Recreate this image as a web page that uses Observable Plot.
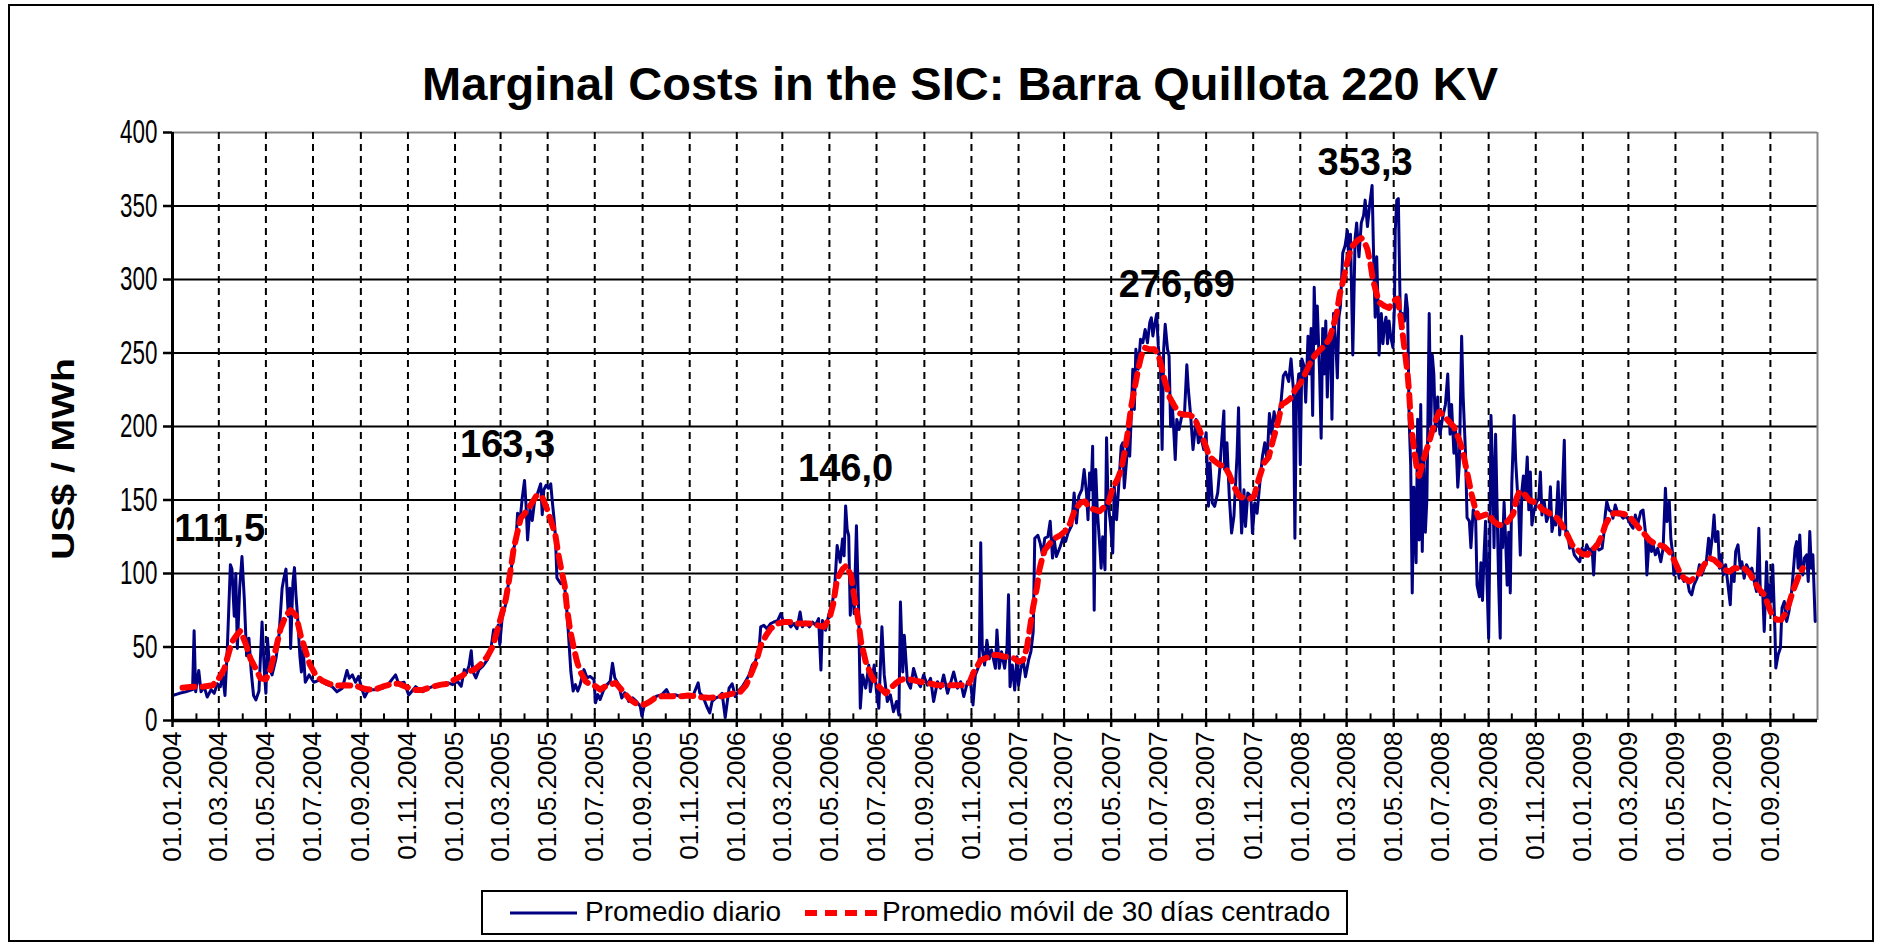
<!DOCTYPE html>
<html><head><meta charset="utf-8">
<script src="https://cdn.jsdelivr.net/npm/d3@7"></script>
<script src="https://cdn.jsdelivr.net/npm/@observablehq/plot@0.6"></script>
<style>
html,body{margin:0;padding:0;background:#fff;}
#wrap{position:relative;width:1883px;height:945px;overflow:hidden;font-family:"Liberation Sans",Arial,sans-serif;background:#fff;}
#frame{position:absolute;left:8px;top:4px;width:1866px;height:938px;border:2px solid #000;box-sizing:border-box;}
#chart{position:absolute;left:0;top:0;}
#title{position:absolute;left:0;width:1920px;top:60px;line-height:47px;text-align:center;font-weight:bold;font-size:47px;color:#000;white-space:nowrap;}
#ylabel{position:absolute;left:-87px;top:441px;width:300px;line-height:36px;text-align:center;font-weight:bold;font-size:32px;transform:rotate(-90deg) scaleX(1.22);transform-origin:150px 18px;white-space:nowrap;}
#legend{position:absolute;left:481px;top:890px;width:867px;height:45px;border:2px solid #000;box-sizing:border-box;background:#fff;font-size:28px;}
#legend .t{position:absolute;top:4px;line-height:32px;white-space:nowrap;}
#legend svg{position:absolute;top:0;left:0;}
</style></head>
<body>
<div id="wrap">
  <div id="frame"></div>
  <div id="chart"></div>
  <div id="title">Marginal Costs in the SIC: Barra Quillota 220 KV</div>
  <div id="ylabel">US$ / MWh</div>
  <div id="legend">
    <svg width="867" height="45"><line x1="27" x2="94" y1="21" y2="21" stroke="#000080" stroke-width="3"/><line x1="322" x2="394" y1="21" y2="21" stroke="#ff0000" stroke-width="6" stroke-dasharray="12,8"/></svg>
    <span class="t" style="left:102px">Promedio diario</span>
    <span class="t" style="left:399px">Promedio móvil de 30 días centrado</span>
  </div>
</div>
<script>
// ---- data (day offset from 01.01.2004, US$/MWh) ----
const dailyA = [[0,17],[9,18.5],[17,19.5],[26,21],[28,61],[30,19.5],[34,34],[37,19.5],[41,23],[45,16],[50,21],[54,18.5],[58,25],[62,23],[65,31],[68,17],[71,49],[75,106],[77,103],[80,71],[82,100],[84,49],[87,90],[90,111.5],[93,83],[96,44],[99,56],[102,33],[105,17],[108,14],[112,20],[116,67],[119,33],[121,18.5],[123,56],[126,35],[129,31],[134,42],[138,58],[142,90],[144,96],[147,103],[150,71],[152,90],[153,49],[156,94],[158,104],[160,85],[162,71],[165,44],[167,33],[169,51],[172,26],[177,31],[183,26],[190,27.5],[198,25],[207,23],[213,19.5],[220,22],[226,34],[229,28.7],[233,31],[237,26],[241,30],[245,22],[249,16],[254,21],[263,21],[272,22],[280,25],[289,31],[293,25],[300,26],[306,17.4],[315,23],[324,19.6],[332,22],[341,24],[350,24.4],[357,25.6],[363,24.4]];
const dailyB = [[369,26.7],[374,23.3],[378,34.6],[381,32.4],[384,37],[387,47.5],[389,33.5],[393,29],[397,34.6],[402,37],[408,41.4],[412,47],[416,61.8],[419,58],[422,65],[424,51.6],[427,69.7],[432,80],[436,97],[439,103.6],[442,117],[445,122.8],[447,141],[450,135],[453,151],[456,163.3],[458,146.6],[460,122.8],[463,144],[466,136],[469,149],[472,153],[477,161],[479,140],[481,157],[484,160],[487,158],[490,161],[492,149],[494,138.7],[496,126],[498,97],[503,93],[507,95.7],[510,81],[513,58.4],[516,33.5],[519,20],[522,24.4],[525,20],[528,24.4],[533,34.6],[537,29],[541,30],[546,27.8],[548,12],[551,17.6],[554,14.3],[558,20],[563,24.4],[567,26.7],[570,39],[573,29],[578,24.4],[582,15.4],[586,18.8],[591,13],[596,15.4],[601,13],[606,9.7],[608,3],[611,9.7],[616,12],[621,14.3],[627,16.5],[634,17.6],[640,21],[644,16.5],[651,17.6],[657,16.5],[666,17.6],[674,16.5],[681,25.6],[683,18.8],[687,16.5],[692,9.7],[696,5.2],[699,13],[704,15.4]];
const dailyC = [[708,16.3],[712,18.5],[716,2],[721,22],[725,25],[729,16.3],[734,20.8],[738,23],[742,26.4],[747,31],[751,37.7],[755,40],[760,49],[762,63.7],[766,64.8],[770,62.5],[775,66],[779,67],[784,68],[788,72.7],[792,66],[796,68],[801,63.7],[805,66],[809,62.5],[813,73.8],[816,63.7],[820,67],[825,63.7],[829,67],[833,64.8],[837,69.3],[840,34.3],[842,68],[846,61.4],[850,71.6],[855,80.6],[858,92],[861,119],[865,107.7],[868,123.5],[870,112],[872,146],[874,130],[876,125.7],[878,71.6],[881,98.6],[883,72.7],[886,132.5],[889,71.6],[891,8.4],[894,31],[898,22],[902,37.7],[904,19.6],[909,37.7],[912,19.6],[915,8.4],[919,63.7],[922,31],[926,12.9],[930,17.4],[934,6],[938,12.9],[941,3.8],[943,80.6],[946,33],[948,58],[952,26.4],[956,22],[960,35.4],[965,26.4],[969,23],[973,31],[978,24],[982,28.7],[986,12.9],[991,26.4],[995,22],[999,31],[1004,18.5],[1009,27.5],[1012,33],[1017,22],[1021,26.4],[1025,16.3],[1030,26.4],[1034,25],[1037,10.6],[1040,31],[1045,37.7],[1047,121],[1049,49],[1052,37.7],[1055,54.6],[1058,42]];
const dailyD = [[1061,48],[1066,35.5],[1068,61.6],[1071,35.5],[1074,46.8],[1078,35.5],[1081,49],[1083,85.5],[1085,23],[1088,37.7],[1091,20.7],[1094,43.4],[1096,24],[1099,35.5],[1102,41],[1105,29.8],[1109,41],[1112,46.8],[1115,60.5],[1117,124],[1121,126],[1124,120.7],[1127,112.7],[1130,124],[1134,125],[1137,135.5],[1140,110.5],[1142,124],[1145,111.6],[1150,118.4],[1154,125],[1157,121.8],[1160,127.5],[1165,133],[1168,154.8],[1171,134.3],[1174,152.5],[1178,157],[1181,170.7],[1184,154.8],[1186,136.6],[1188,168.4],[1190,157],[1192,186.6],[1194,75],[1196,170.7],[1198,143.4],[1201,120.7],[1203,103.6],[1205,125],[1208,102.5],[1210,192.3],[1212,148],[1215,134.3],[1218,113.9],[1220,159.3],[1223,136.6],[1226,161.6],[1229,186.6],[1231,188.9],[1233,158.2],[1236,177.5],[1238,200],[1240,179.8],[1242,207],[1244,238.9],[1246,211.6],[1248,252.5],[1251,239],[1254,259.3],[1257,257],[1260,266],[1263,257],[1266,270.7],[1268,274],[1270,261.6],[1272,268.4],[1275,276.7],[1277,254.8],[1280,239],[1282,184.3],[1284,252.5],[1286,269.5],[1289,252.5],[1291,248],[1293,200],[1295,216],[1297,198],[1299,177.5],[1301,204.8],[1304,198],[1307,206],[1311,209],[1314,242],[1316,225],[1319,207],[1322,184.3],[1326,204.8],[1329,188.9],[1332,193.4],[1336,184.3],[1339,195.7],[1342,145.7],[1344,175.2],[1347,148],[1350,145.7],[1354,154.8],[1357,173],[1359,188.9],[1362,210.5],[1363,170.7],[1366,188.9],[1369,152.5],[1372,127.5],[1375,138.9],[1379,179.8],[1381,212.7],[1383,157],[1385,127.5],[1388,157],[1390,132],[1393,154.8],[1397,152.5],[1399,127.5],[1402,148],[1405,141],[1409,163.9],[1412,179.8],[1415,188.9],[1418,176.7]];
const dailyE = [[1421,208.8],[1424,194.7],[1427,210],[1430,202.4],[1433,208.8],[1436,216.5],[1439,234.5],[1442,237],[1446,230.6],[1449,246],[1452,225.5],[1454,124],[1456,220],[1459,235.7],[1461,174],[1463,246],[1466,240.9],[1468,216.5],[1471,261.4],[1473,235.7],[1475,266.6],[1477,207.5],[1479,294.8],[1481,256.3],[1483,282],[1486,235.7],[1488,192],[1490,266.6],[1492,235.7],[1494,271.7],[1496,220],[1498,261.4],[1500,264],[1502,205],[1504,276.8],[1507,256.3],[1509,233],[1511,274.3],[1513,282],[1516,318],[1519,323],[1522,333.3],[1524,310],[1526,330.8],[1529,248.6],[1532,328.2],[1534,338.5],[1537,315.4],[1540,338.5],[1543,343.6],[1545,354],[1548,336],[1551,351.3],[1554,364],[1556,315.4],[1558,274.3],[1560,315.4],[1562,276.8],[1563,248.6],[1566,276.8],[1568,256.3],[1570,269],[1572,274.3],[1574,256.3],[1576,271.7],[1578,261.4],[1581,253.7],[1583,282],[1584,333.3],[1586,354],[1588,355],[1590,292.2],[1591,266.6],[1593,276.8],[1596,271.7],[1598,289.7],[1600,279.4],[1602,205],[1604,174],[1606,86.8],[1608,158.7],[1611,107.3],[1613,205],[1615,122.8],[1617,215],[1619,115],[1621,179.2],[1623,128],[1625,151],[1628,276.8],[1630,199.8],[1632,248.6],[1634,235.7],[1636,197],[1639,220],[1640,205],[1642,194.7],[1645,205],[1649,215],[1652,235.7],[1655,194.7],[1657,215],[1660,181.8],[1662,199.8],[1665,158.7],[1667,174],[1670,261.4],[1672,220],[1675,181.8],[1677,138],[1680,135.6],[1682,117.6],[1685,143.3],[1688,140.7],[1690,92],[1693,84.2],[1695,107.3],[1697,81.7],[1699,112.5],[1701,135.6],[1703,92],[1705,56],[1707,143.3],[1708,207.5],[1710,174],[1712,117.6],[1714,194.7],[1716,143.3],[1718,92],[1720,56],[1721,130.5],[1723,117.6],[1725,148.4],[1727,122.8],[1729,92],[1731,128],[1733,86.8],[1735,161.3],[1738,207.5],[1740,176.7],[1742,158.7],[1744,143.3],[1746,112.5],[1748,156],[1750,166.4],[1752,151],[1755,179.2],[1757,143.3],[1759,169],[1761,133],[1764,143.3],[1767,148.4]];
const dailyF = [[1770,151],[1772,169],[1774,139.8],[1777,148.9],[1780,135.3],[1783,139.8],[1785,159],[1787,128.5],[1790,137.6],[1792,133],[1795,162.4],[1797,126.2],[1799,139.8],[1801,162.4],[1803,190.7],[1805,126.2],[1807,128.5],[1810,117.2],[1813,119.5],[1816,112.7],[1819,110.4],[1823,108],[1826,117.2],[1829,112.7],[1832,119.5],[1836,115],[1839,117.2],[1841,99],[1843,119.5],[1848,116],[1852,117.2],[1854,126.2],[1856,139.8],[1858,148.9],[1861,143.2],[1864,142],[1866,137.6],[1869,146.6],[1873,139.8],[1876,139.8],[1879,137.6],[1882,138.7],[1885,137.6],[1889,133],[1892,130.8],[1895,139.8],[1898,133],[1902,142],[1905,143.2],[1908,128.5],[1910,99],[1913,124],[1916,115],[1918,119.5],[1921,112.7],[1924,117.2],[1928,108],[1931,117.2],[1934,158],[1936,135.3],[1939,148.9],[1941,124],[1943,115],[1945,99],[1949,106],[1952,96.8],[1955,99],[1958,94.6],[1962,96.8],[1965,87.8],[1968,85.5],[1971,92.3],[1975,96.8],[1978,106],[1981,99],[1984,103.6],[1987,108],[1990,124],[1992,112.7],[1995,126],[1997,139.8],[1999,121.7],[2002,128.5],[2004,103.6],[2006,112.7],[2009,99],[2012,106],[2015,92.3],[2018,78.7],[2020,103.6],[2023,94.6],[2025,115],[2028,119.5],[2031,103.6],[2033,108],[2036,96.8],[2039,106],[2043,101.4],[2046,103.6],[2049,94.6],[2052,87.8],[2055,130.8],[2057,85.5],[2060,87.8],[2062,60.6],[2065,108],[2067,76.5],[2069,92.3],[2071,81],[2073,106],[2076,58.4],[2077,35.7],[2080,44.8],[2083,49.3],[2085,76.5],[2088,81],[2091,67.4],[2094,74.2],[2097,85.5],[2099,96.8],[2102,117.2],[2104,121.7],[2106,103.6],[2108,126.2],[2110,103.6],[2112,99],[2114,110.4],[2117,112.7],[2119,94.6],[2121,128.5],[2123,103.6],[2125,112.7],[2128,67.4]];

const avgA = [[13,22.3],[26,23],[39,23],[52,24],[60,28.7],[67,35],[72,44.5],[77,53.5],[83,58],[88,61],[95,52],[101,42],[108,35],[114,28.7],[121,28],[127,35],[134,49],[140,62.5],[147,71.5],[153,75],[160,71.5],[166,58],[172,48],[178,38],[186,30.5],[194,27],[203,25],[211,23.7],[224,24],[237,23.7],[250,21.4],[261,20.8],[272,23],[285,25],[293,25],[302,23],[313,20.8],[324,20.8],[337,23],[348,24.4],[357,25]];
const avgB = [[365,27.8],[374,30],[382,33],[391,34.6],[399,38],[408,43.7],[415,50.5],[421,61.8],[427,73],[432,83],[436,95.7],[439,106],[442,117],[447,128.5],[451,137.5],[458,142],[464,146.6],[472,153.4],[479,152],[485,144],[492,133],[496,126],[500,112.7],[505,99],[508,92],[511,76.5],[515,61.8],[520,49],[524,40],[528,33.5],[535,26.7],[541,24.4],[548,23.3],[554,21],[561,23.3],[567,24.4],[574,25.6],[580,22],[587,17.6],[593,14.3],[599,12],[606,10.9],[612,10.9],[619,13],[625,15.4],[634,16.5],[642,16.5],[651,16.5],[660,16.5],[668,17],[677,16.5],[685,15.8],[694,15.4],[702,15.8]];
const avgC = [[710,16.3],[719,17.4],[727,18.5],[736,19.6],[743,24],[749,31],[756,40],[762,51],[769,58],[775,62.5],[784,66],[792,67],[801,67],[810,66],[818,66],[827,66],[835,64.8],[844,63.7],[851,69.3],[856,79.5],[861,96.4],[868,103],[873,105.4],[879,98.6],[883,85],[888,69.3],[892,53.5],[898,40],[905,31],[911,25.3],[917,22],[924,18.5],[930,22],[937,25.3],[943,27.5],[950,28.7],[959,27.5],[969,26.4],[980,25.3],[991,24],[1002,24],[1012,24],[1023,24],[1032,25.3],[1038,33],[1047,41],[1056,43]];
const avgD = [[1064,44.5],[1070,44.5],[1077,43.4],[1083,43.4],[1090,42.3],[1096,40],[1102,41],[1107,50],[1111,63.9],[1115,77.5],[1120,91],[1123,102.5],[1126,109],[1130,116],[1137,120.7],[1143,124],[1150,126],[1156,128.6],[1163,134.3],[1169,143.4],[1176,148],[1182,149],[1188,144.5],[1195,143.4],[1201,142.3],[1208,145.7],[1213,149],[1218,158.2],[1224,163.9],[1229,170.7],[1234,184.3],[1238,198],[1242,213.9],[1246,225],[1251,239],[1255,248],[1259,253.6],[1266,252.5],[1272,252.5],[1277,249],[1281,241],[1285,232],[1292,219.5],[1298,213.9],[1304,209],[1311,208],[1317,208],[1324,206],[1330,198],[1337,188.9],[1343,179.8],[1350,176.4],[1356,174],[1363,173],[1369,167.3],[1375,159.3],[1382,152.5],[1388,151.4],[1395,150.7],[1401,152.5],[1407,163.9],[1414,175.2]];
const avgE = [[1420,179],[1425,189.5],[1429,197],[1433,205],[1437,215],[1442,216.5],[1448,219],[1455,225.5],[1461,229.3],[1467,235.7],[1474,243.4],[1480,248.6],[1487,252.4],[1493,255],[1499,260],[1504,269],[1508,276.8],[1512,289.7],[1517,300],[1521,310.2],[1525,318],[1529,323],[1536,327],[1540,328.2],[1544,325.6],[1548,320.5],[1552,310.2],[1555,300],[1559,292],[1563,284.5],[1570,282],[1576,280.7],[1583,285.8],[1587,287],[1591,274.3],[1594,261.4],[1597,248.6],[1600,235.7],[1602,223],[1604,205],[1606,194.7],[1609,181.8],[1612,171.5],[1615,166.4],[1619,174],[1623,181.8],[1628,189.5],[1632,197.2],[1637,205],[1641,210],[1647,207.5],[1653,203.6],[1660,199.8],[1666,192],[1671,184.4],[1675,174],[1679,163.8],[1683,153.6],[1688,143.3],[1692,138.2],[1698,139.5],[1705,140.7],[1711,135.6],[1718,133],[1724,133],[1730,135.6],[1737,140.7],[1741,151],[1745,156],[1752,153.6],[1758,149.7],[1765,148.4]];
const avgF = [[1771,145.8],[1775,143.3],[1781,142],[1787,139.8],[1794,137.6],[1800,133],[1807,126.2],[1813,119.5],[1820,116],[1826,113.3],[1833,112.7],[1839,116],[1846,119.5],[1852,126.2],[1856,133],[1861,137.6],[1867,141],[1874,141],[1880,140.5],[1887,138.7],[1893,135.3],[1900,130.8],[1906,127.4],[1913,122.9],[1919,120.6],[1926,119.5],[1932,118.3],[1939,115],[1945,109.3],[1952,101.4],[1958,96.8],[1965,94.6],[1971,96.8],[1978,100.2],[1984,105.9],[1991,110.4],[1997,109.3],[2004,105.9],[2010,102.5],[2017,101.4],[2023,103.6],[2030,103.6],[2036,103.6],[2043,100.2],[2049,94.6],[2056,89],[2062,85.5],[2067,78.7],[2071,73],[2078,68.5],[2084,68.5],[2091,74.2],[2095,81],[2099,87.8],[2104,94.6],[2108,100.2],[2112,103.6]];

const peakLabels = ["111,5","163,3","146,0","276,69","353,3"];
const peakDays   = [61, 434, 872, 1301, 1545];
const peakLabelY = [122, 179, 163, 288, 371];

const xTickLabels = ["01.01.2004","01.03.2004","01.05.2004","01.07.2004","01.09.2004","01.11.2004",
 "01.01.2005","01.03.2005","01.05.2005","01.07.2005","01.09.2005","01.11.2005",
 "01.01.2006","01.03.2006","01.05.2006","01.07.2006","01.09.2006","01.11.2006",
 "01.01.2007","01.03.2007","01.05.2007","01.07.2007","01.09.2007","01.11.2007",
 "01.01.2008","01.03.2008","01.05.2008","01.07.2008","01.09.2008","01.11.2008",
 "01.01.2009","01.03.2009","01.05.2009","01.07.2009","01.09.2009"];
const yTicks = [0,50,100,150,200,250,300,350,400];

// ---- build ----
const start = new Date(Date.UTC(2004,0,1));
const end = new Date(Date.UTC(2009,10,1));
const toDate = d => new Date(start.getTime() + d*864e5);
const toRows = arr => arr.map(([d,v]) => ({date: toDate(d), value: v}));
const daily = toRows([].concat(dailyA, dailyB, dailyC, dailyD, dailyE, dailyF));
const avg = toRows([].concat(avgA, avgB, avgC, avgD, avgE, avgF));
const parseTick = d3.utcParse("%d.%m.%Y");
const fmtTick = d3.utcFormat("%d.%m.%Y");
const majorTicks = xTickLabels.map(parseTick);
const minorTicks = d3.utcMonth.range(start, end);
const peaks = peakLabels.map((t,i) => ({date: toDate(peakDays[i]), value: peakLabelY[i], text: t}));

const plot = Plot.plot({
  width: 1883, height: 870,
  marginLeft: 172, marginRight: 66, marginTop: 132, marginBottom: 150,
  style: {fontFamily: "'Liberation Sans', Arial, sans-serif", fontSize: "26px", color: "#000", background: "transparent", overflow: "visible"},
  x: {type: "utc", domain: [start, end], ticks: majorTicks, tickFormat: fmtTick, tickRotate: -90, tickSize: 7, tickPadding: 4, label: null},
  y: {domain: [0, 400], ticks: yTicks, tickSize: 9, tickPadding: 6, label: null},
  marks: [
    Plot.ruleY(yTicks.filter(v => v > 0 && v < 400), {stroke: "#000", strokeWidth: 2}),
    Plot.ruleY([400], {stroke: "#868686", strokeWidth: 2}),
    Plot.ruleX([end], {stroke: "#868686", strokeWidth: 2}),
    Plot.ruleX(majorTicks.slice(1), {stroke: "#000", strokeWidth: 2, strokeDasharray: "7,5"}),
    Plot.ruleX(minorTicks, {x: d => d, y1: 0, y2: 4.5, stroke: "#000", strokeWidth: 2}),
    Plot.line(daily, {x: "date", y: "value", stroke: "#000080", strokeWidth: 3}),
    Plot.line(avg, {x: "date", y: "value", stroke: "#ff0000", strokeWidth: 6, strokeDasharray: "12,8"}),
    Plot.ruleX([start], {stroke: "#000", strokeWidth: 3}),
    Plot.ruleY([0], {stroke: "#000", strokeWidth: 3.5}),
    Plot.text(peaks, {x: "date", y: "value", text: "text", fontWeight: "bold", fontSize: 38, lineAnchor: "bottom", fill: "#000"})
  ]
});
document.getElementById("chart").appendChild(plot);

// axis styling
const svg = d3.select(plot);
svg.selectAll('g[aria-label^="x-axis"] text').style("font-size", "26px");
svg.selectAll('g[aria-label^="y-axis"] text').each(function(){
  const t = d3.select(this).style("font-size", "34px");
  const len = this.getComputedTextLength();
  if (len > 0) t.attr("textLength", (len * 0.66).toFixed(1)).attr("lengthAdjust", "spacingAndGlyphs");
});
svg.selectAll('g[aria-label^="y-axis"] line, g[aria-label^="y-axis"] path, g[aria-label^="x-axis"] line, g[aria-label^="x-axis"] path').style("stroke-width", "2.5px");
</script>
</body></html>
